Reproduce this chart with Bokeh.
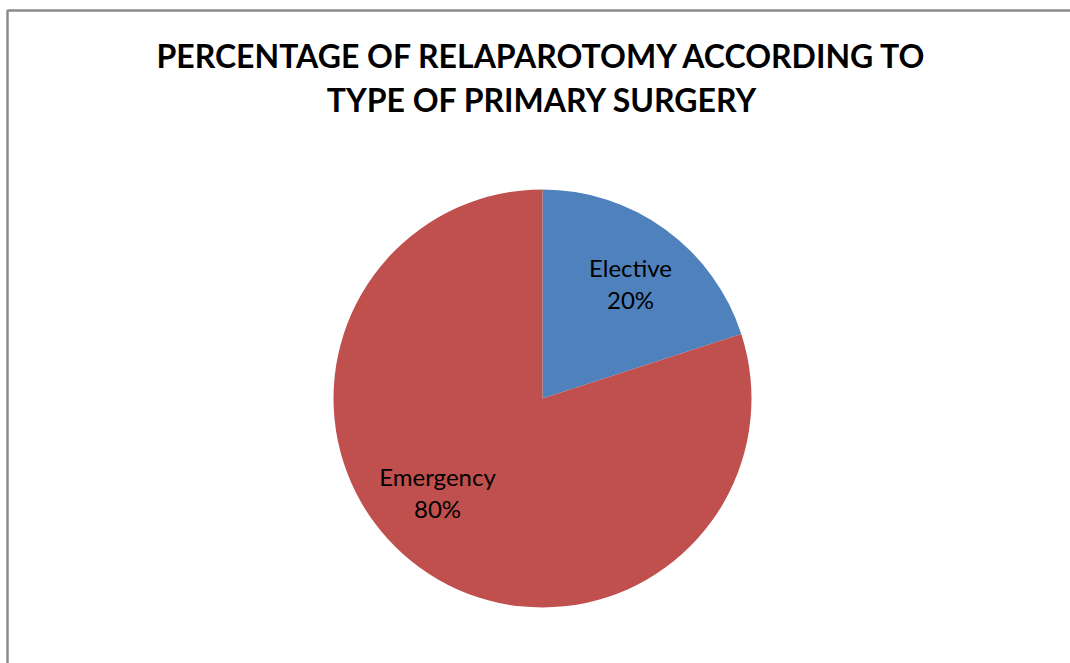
import math
from bokeh.plotting import figure
from bokeh.models import Range1d
from bokeh.core.properties import value
from bokeh.embed import file_html
from bokeh.resources import INLINE

# Relaparotomy share by type of primary surgery
categories = ["Elective", "Emergency"]
percentages = [20, 80]
colors = ["#4F81BD", "#C0504D"]
title_lines = ["PERCENTAGE OF RELAPAROTOMY ACCORDING TO", "TYPE OF PRIMARY SURGERY"]

W, H = 1070, 663
FONT = "Lato"

p = figure(width=W, height=H, output_backend="svg", toolbar_location=None,
           x_range=Range1d(0, W), y_range=Range1d(0, H),
           min_border=0, outline_line_color=None)
p.axis.visible = False
p.grid.visible = False
p.background_fill_color = "white"
p.border_fill_color = "white"

def Y(py):
    return H - py

# chart frame (top and left edges visible)
p.line([7, 7, W + 5], [Y(H + 5), Y(10), Y(10)], line_color="#8c8c8c", line_width=2.5)

# pie, starting at 12 o'clock and running clockwise
cx, cy, r = 542, Y(398), 209
total = float(sum(percentages))
starts, ends = [], []
acc = 0.0
for v in percentages:
    a0 = math.pi / 2 - 2 * math.pi * acc / total
    acc += v
    a1 = math.pi / 2 - 2 * math.pi * acc / total
    starts.append(a0)
    ends.append(a1)

p.wedge(x=[cx] * len(categories), y=[cy] * len(categories), radius=r,
        start_angle=starts, end_angle=ends, direction="clock",
        fill_color=colors, line_color=None)

# data labels: category name above the percentage
label_pos = [(630, 283), (437, 492)]
for (lx, ly), cat, v in zip(label_pos, categories, percentages):
    p.text(x=[lx, lx], y=[Y(ly - 16), Y(ly + 16)], text=[cat, f"{v}%"],
           text_font=value(FONT), text_font_size="24px", text_color="#000000",
           text_align="center", text_baseline="middle")

# title
p.text(x=[542, 542], y=[Y(55), Y(99)], text=title_lines,
       text_font=value(FONT), text_font_size="32px", text_font_style="bold",
       text_color="#000000", text_align="center", text_baseline="middle")

open("out.html", "w").write(file_html(p, INLINE))
